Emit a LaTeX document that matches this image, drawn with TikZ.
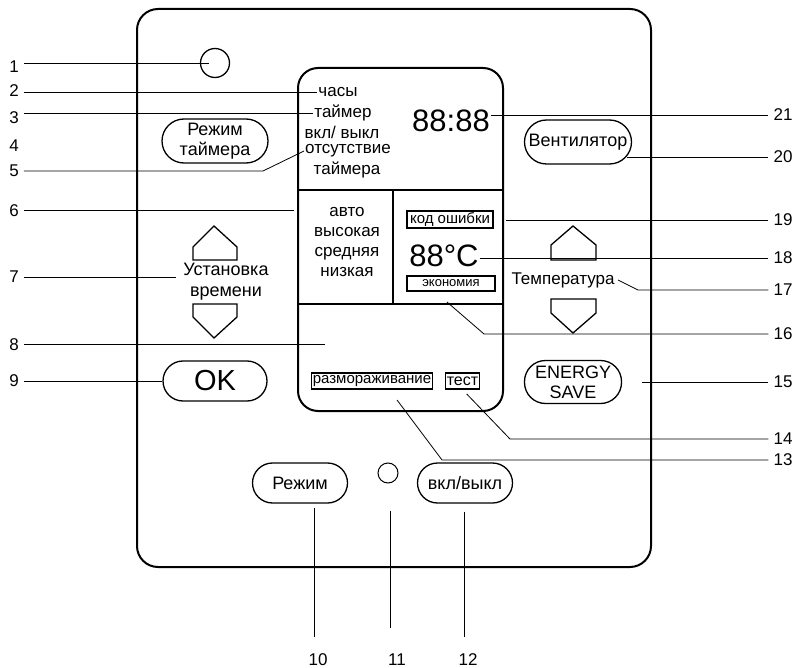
\documentclass[tikz,border=0pt]{standalone}
\usepackage{fontspec}
\setmainfont{Liberation Sans}
\usetikzlibrary{positioning,calc}
\newcommand{\pxfont}[1]{\fontsize{#1}{#1}\selectfont}

\begin{document}
\begin{tikzpicture}[x=1pt,y=-1pt,font=\pxfont{18},
  num/.style={font=\pxfont{17},inner xsep=5pt,inner ysep=1pt},
  lcd/.style={inner sep=1pt,font=\pxfont{17}},
  flag/.style={draw,line width=1.2pt,inner xsep=1pt,inner ysep=0pt,minimum height=16pt},
  btn/.style={draw,line width=1.3pt,rounded corners=20pt,align=center,inner sep=0pt},
  lead/.style={line width=0.8pt},
  key/.style={line width=1.3pt,line join=miter}]
  \useasboundingbox (0,0) rectangle (797,668);
  \draw[line width=2pt,rounded corners=21pt] (137,9) rectangle (651,567);
  \draw[line width=2pt,rounded corners=20pt] (298,68) rectangle (503,411);
  \draw[line width=1.6pt] (298,190) -- (503,190) (393,190) -- (393,304) (298,304) -- (503,304);

  \node[circle,draw,line width=1.3pt,minimum size=29pt,inner sep=0pt] (lamp) at (215,63) {};
  \node[circle,draw,line width=1pt,minimum size=20pt,inner sep=0pt] (led) at (388,473) {};

  \node[btn,minimum width=106pt,minimum height=44pt,rounded corners=22pt,font=\fontsize{18}{20}\selectfont] (timerbtn) at (215,141) {Режим\\таймера};
  \node[btn,minimum width=107pt,minimum height=44pt,rounded corners=22pt] (fanbtn) at (578,142) {Вентилятор};
  \node[btn,minimum width=104pt,minimum height=40pt,font=\pxfont{29}] (okbtn) at (215,381) {OK};
  \node[btn,minimum width=97pt,minimum height=43pt,rounded corners=21pt,font=\fontsize{18}{20}\selectfont] (esbtn) at (573,382) {ENERGY\\SAVE};
  \node[btn,minimum width=95pt,minimum height=40pt] (modebtn) at (300,483) {Режим};
  \node[btn,minimum width=95pt,minimum height=40pt] (pwrbtn) at (465,483) {вкл/выкл};

  \draw[key] (193,260) -- (193,247) -- (214,226) -- (237,247) -- (237,260) -- cycle;
  \draw[key] (193,304) -- (237,304) -- (237,317) -- (214,338) -- (193,317) -- cycle;
  \draw[key] (551,260) -- (551,245) -- (573,226) -- (596,245) -- (596,260) -- cycle;
  \draw[key] (551,299) -- (596,299) -- (596,313) -- (573,333) -- (551,313) -- cycle;
  \node[align=center,font=\fontsize{18}{21}\selectfont] (setlbl) at (226,282) {Установка\\времени};
  \node[font=\pxfont{17}] (templbl) at (563,280) {Температура};

  \node[lcd] (chasy) at (338,92) {часы};
  \node[lcd] (taimer) at (343,113) {таймер};
  \node[lcd] (onoff) at (342,132) {вкл/ выкл};
  \node[lcd] (otsut) at (348,151) {отсутствие};
  \node[lcd] (taimera) at (347,170) {таймера};
  \node[lcd,font=\pxfont{31}] (clock) at (451,121) {88:88};
  \node[lcd,align=center,font=\fontsize{17}{20}\selectfont] (fanmode) at (347,242) {авто\\высокая\\средняя\\низкая};
  \node[flag,font=\pxfont{15},minimum width=86pt,minimum height=17pt] (errbox) at (450,219.5) {код ошибки};
  \node[lcd,font=\pxfont{31}] (temp) at (444,256) {88°C};
  \node[flag,font=\pxfont{13},minimum width=88pt,minimum height=15pt] (ecobox) at (451,283.5) {экономия};
  \node[flag,font=\pxfont{15}] (defrost) at (372,381) {размораживание};
  \node[flag,font=\pxfont{16}] (testbox) at (462.5,381) {тест};

  \node[num] (n1) at (14,67) {1};
  \node[num] (n2) at (14,91) {2};
  \node[num] (n3) at (14,118) {3};
  \node[num] (n4) at (14,146) {4};
  \node[num] (n5) at (14,171) {5};
  \node[num] (n6) at (14,211) {6};
  \node[num] (n7) at (14,277) {7};
  \node[num] (n8) at (14,345) {8};
  \node[num] (n9) at (14,381) {9};
  \node[num] (n21) at (783,115) {21};
  \node[num] (n20) at (783,157) {20};
  \node[num] (n19) at (783,220) {19};
  \node[num] (n18) at (783,258) {18};
  \node[num] (n17) at (783,290) {17};
  \node[num] (n16) at (783,334) {16};
  \node[num] (n15) at (783,382) {15};
  \node[num] (n14) at (783,439) {14};
  \node[num] (n13) at (783,460) {13};
  \node[num] (n10) at (318,660) {10};
  \node[num] (n11) at (397,660) {11};
  \node[num] (n12) at (468,660) {12};

  \coordinate (b5) at (263,171);
  \coordinate (p6) at (294,210);
  \coordinate (p8) at (325,344);
  \coordinate (b17) at (638,290);
  \coordinate (p16) at (447,302);
  \coordinate (b16) at (484,334);
  \coordinate (b14) at (510,439);
  \coordinate (p13) at (397,400);
  \coordinate (b13) at (442,460);
  \coordinate (e10) at (314,637);
  \coordinate (e11) at (390,628);
  \coordinate (e12) at (464,637);

  \draw[lead,shorten >=6pt] (n1.east |- lamp) -- (lamp.center);
  \draw[lead] (n2.east |- chasy) -- (chasy.west);
  \draw[lead] (n3.east |- taimer) -- (taimer.west);
  \draw[lead] (n5.east) -- (b5) -- (otsut.west);
  \draw[lead] (n6.east |- p6) -- (p6);
  \draw[lead,shorten >=4pt] (n7.east) -- (n7.east -| setlbl.west);
  \draw[lead] (n8.east |- p8) -- (p8);
  \draw[lead] (n9.east |- okbtn) -- (okbtn.west);

  \draw[lead] (clock.east |- n21) -- (n21.west);
  \draw[lead] ([xshift=-5pt]fanbtn.east |- n20) -- (n20.west);
  \draw[lead,shorten <=12pt] (errbox.east |- n19) -- (n19.west);
  \draw[lead] (temp.east |- n18) -- (n18.west);
  \draw[lead] (templbl.east) -- (b17) -- (n17.west);
  \draw[lead] (p16) -- (b16) -- (n16.west);
  \draw[lead,shorten <=20pt] (esbtn.east) -- (n15.west);
  \draw[lead,shorten <=6pt] (testbox.south) -- (b14) -- (n14.west);
  \draw[lead] (p13) -- (b13) -- (n13.west);

  \draw[lead,shorten <=4pt] (modebtn.south -| e10) -- (e10);
  \draw[lead,shorten <=27pt] (led.south -| e11) -- (e11);
  \draw[lead,shorten <=8pt] (pwrbtn.south -| e12) -- (e12);
\end{tikzpicture}
\end{document}
